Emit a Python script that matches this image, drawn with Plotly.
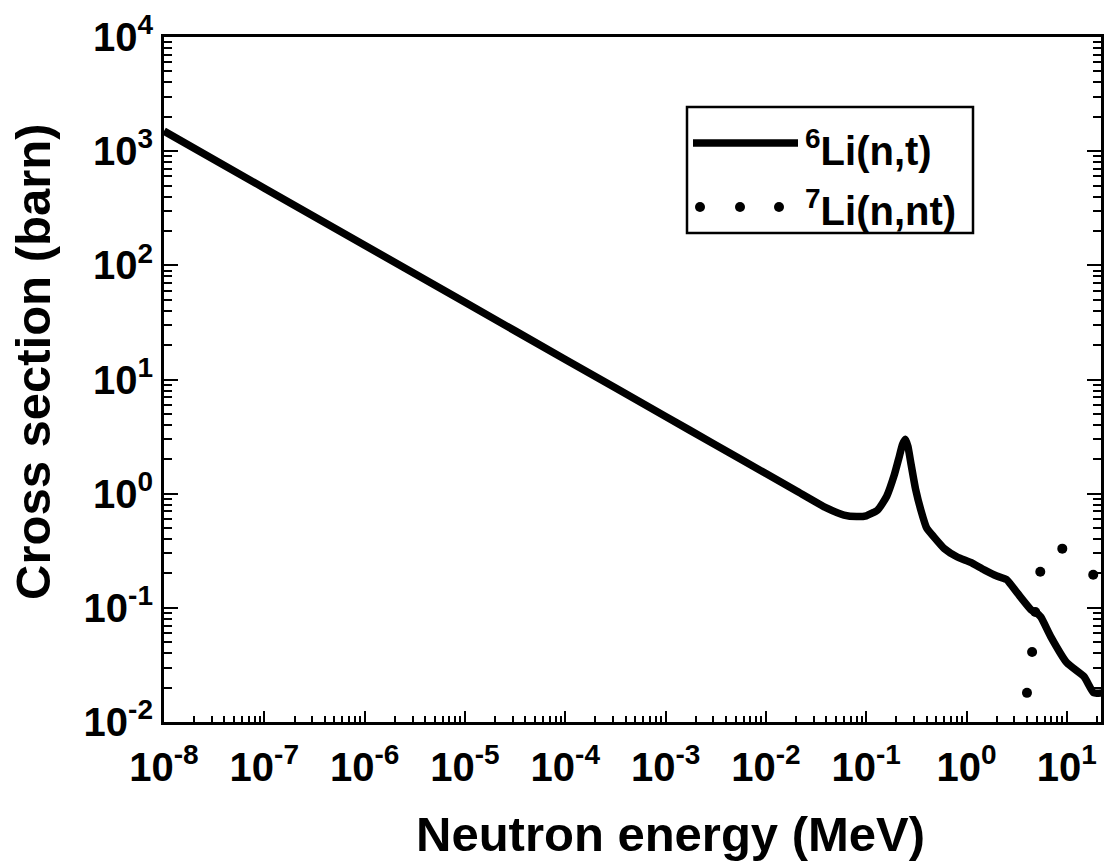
import plotly.graph_objects as go

# 6Li(n,t) cross section (MeV, barn)
li6_energy = [1e-8, 1e-7, 1e-6, 1e-5, 1e-4, 1e-3, 3e-3, 1e-2, 2e-2, 4e-2, 6e-2, 8e-2,
              0.1, 0.13, 0.16, 0.19, 0.21, 0.23, 0.245, 0.26, 0.28, 0.31, 0.35, 0.4,
              0.47, 0.6, 0.8, 1.1, 1.5, 2.0, 2.5, 3.2, 4.4, 5.0, 5.5, 6.9, 10.0, 14.8, 18.5, 22.0]
li6_sigma = [1500, 474, 150, 47.4, 15.0, 4.74, 2.74, 1.50, 1.06, 0.75, 0.65, 0.63,
             0.64, 0.72, 0.95, 1.45, 2.0, 2.7, 3.0, 2.6, 1.8, 1.1, 0.72, 0.5,
             0.42, 0.33, 0.28, 0.25, 0.215, 0.19, 0.177, 0.135, 0.096, 0.09, 0.083, 0.056, 0.033, 0.025, 0.018, 0.018]

# 7Li(n,nt) cross section (MeV, barn), dotted series
li7_energy = [4.0, 4.5, 4.84, 5.43, 9.0, 18.3]
li7_sigma = [0.018, 0.041, 0.092, 0.207, 0.33, 0.195]

x_tick_exps = [-8, -7, -6, -5, -4, -3, -2, -1, 0, 1]
y_tick_exps = [-2, -1, 0, 1, 2, 3, 4]
legend_names = ["<sup>6</sup>Li(n,t)", "<sup>7</sup>Li(n,nt)"]
x_title = "Neutron energy (MeV)"
y_title = "Cross section (barn)"

FONT = "Liberation Sans, Arial, sans-serif"

fig = go.Figure()
fig.add_trace(go.Scatter(x=li6_energy, y=li6_sigma, mode="lines",
                         line=dict(color="black", width=7.5, shape="spline", smoothing=0.5),
                         name=legend_names[0], showlegend=False))
fig.add_trace(go.Scatter(x=li7_energy, y=li7_sigma, mode="markers",
                         marker=dict(color="black", size=10, symbol="circle"),
                         name=legend_names[1], showlegend=False))

def minor_vals(lo, hi):
    vals = []
    for e in range(lo, hi + 1):
        for m in range(2, 10):
            vals.append(m * 10.0 ** e)
    return vals

axis_common = dict(type="log", showgrid=False, zeroline=False, showline=True,
                   linecolor="black", linewidth=3,
                   ticks="inside", tickcolor="black", tickwidth=2,
                   tickfont=dict(family=FONT, size=40, color="black", weight="bold"))

fig.update_xaxes(**axis_common, mirror=True, range=[-8, 1.34], ticklen=11, ticklabelstandoff=8,
                 tickmode="array",
                 tickvals=[10.0 ** e for e in x_tick_exps],
                 ticktext=["10<sup>%d</sup>" % e for e in x_tick_exps],
                 minor=dict(tickmode="array", tickvals=minor_vals(-8, 1), ticks="inside",
                            ticklen=6, tickwidth=2, tickcolor="black", showgrid=False))
fig.update_yaxes(**axis_common, mirror="allticks", range=[-2, 4], ticklen=14,
                 tickmode="array",
                 tickvals=[10.0 ** e for e in y_tick_exps],
                 ticktext=["10<sup>%d</sup>" % e for e in y_tick_exps],
                 minor=dict(tickmode="array", tickvals=minor_vals(-2, 3), ticks="inside",
                            ticklen=8, tickwidth=2, tickcolor="black", showgrid=False))

# paper coordinates relative to the plot area (pixel helpers)
L, W, T, H = 164, 937, 37, 685
def px(x):
    return (x - L) / W
def py(y):
    return 1 - (y - T) / H

shapes = [
    dict(type="rect", xref="paper", yref="paper", x0=px(687), x1=px(973), y0=py(233), y1=py(107),
         line=dict(color="black", width=2.5), fillcolor="white", layer="above"),
    dict(type="line", xref="paper", yref="paper", x0=px(693), x1=px(798), y0=py(143), y1=py(143),
         line=dict(color="black", width=7.5), layer="above"),
]
for cx in (700, 740, 779):
    shapes.append(dict(type="circle", xref="paper", yref="paper",
                       x0=px(cx - 5), x1=px(cx + 5), y0=py(207 + 5), y1=py(207 - 5),
                       fillcolor="black", line=dict(color="black", width=0), layer="above"))

title_font = dict(family=FONT, size=49, color="black", weight="bold")
annotations = [
    dict(xref="paper", yref="paper", x=px(803), y=py(148), xanchor="left", yanchor="middle",
         text=legend_names[0], showarrow=False,
         font=dict(family=FONT, size=40, color="black", weight="bold")),
    dict(xref="paper", yref="paper", x=px(803), y=py(208), xanchor="left", yanchor="middle",
         text=legend_names[1], showarrow=False,
         font=dict(family=FONT, size=40, color="black", weight="bold")),
    dict(xref="paper", yref="paper", x=px(670), y=py(834), xanchor="center", yanchor="middle",
         text=x_title, showarrow=False, font=title_font),
    dict(xref="paper", yref="paper", x=px(33), y=py(362), xanchor="center", yanchor="middle",
         text=y_title, textangle=-90, showarrow=False, font=title_font),
]

fig.update_layout(width=1104, height=862, paper_bgcolor="white", plot_bgcolor="white",
                  margin=dict(l=164, r=3, t=37, b=140, autoexpand=False),
                  shapes=shapes, annotations=annotations, showlegend=False)

# remove the default 8 px page margin so the figure fills the window exactly
fig.write_html("out.html", config={"displayModeBar": False},
               post_script="document.body.style.margin='0';document.body.style.overflow='hidden';")
